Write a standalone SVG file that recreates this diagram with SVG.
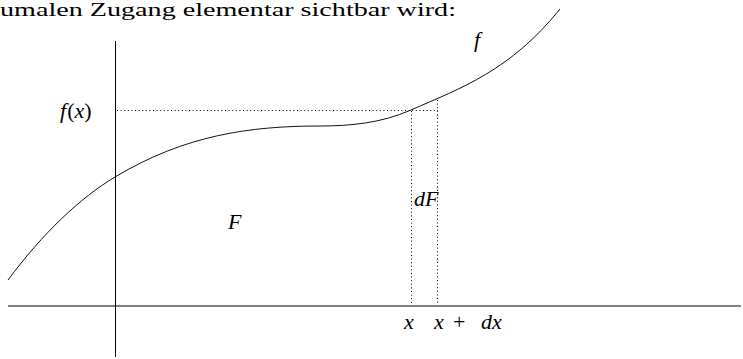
<svg xmlns="http://www.w3.org/2000/svg" width="743" height="359" viewBox="0 0 743 359">
<style>
.ax{stroke:#000;stroke-width:1;fill:none}
.cv{stroke:#111;stroke-width:1;fill:none}
.dot{stroke:#000;stroke-width:1;fill:none;stroke-dasharray:1 2.6}
.t{font-family:'Liberation Serif','DejaVu Serif',serif;font-size:19px;fill:#000}
.m{font-family:'Liberation Serif','DejaVu Serif',serif;font-style:italic;font-size:22px;fill:#000}
.u{font-style:normal}
</style>
<rect width="743" height="359" fill="#fff"/>
<g id="caption">
<text class="t" x="0" y="16" textLength="456" lengthAdjust="spacingAndGlyphs">umalen Zugang elementar sichtbar wird:</text>
</g>
<g id="axes">
<line class="ax" x1="115.5" y1="41" x2="115.5" y2="357"/>
<line class="ax" x1="8" y1="306" x2="741" y2="306" stroke-width="1.2"/>
</g>
<g id="curve">
<path class="cv" d="M8,280 C43,233 80,198 115,177 C185,135 250,126 320,126 C350,126 381,123.2 411,110 C461,88 510,71 560,9"/>
</g>
<g id="connectors">
<line class="dot" x1="117" y1="110.5" x2="438" y2="110.5"/>
<line class="dot" x1="411.5" y1="111" x2="411.5" y2="305"/>
<line class="dot" x1="437.5" y1="100" x2="437.5" y2="305"/>
</g>
<g id="labels">
<text class="m" x="60" y="118">f<tspan class="u" dx="1">(</tspan>x<tspan class="u">)</tspan></text>
<text class="m" x="474" y="47">f</text>
<text class="m" x="228" y="229">F</text>
<text class="m" x="414" y="206" font-size="15">dF</text>
<text class="m" x="404" y="329">x</text>
<text class="m" x="434" y="329">x<tspan class="u" x="453">+</tspan><tspan x="481">dx</tspan></text>
</g>
</svg>
